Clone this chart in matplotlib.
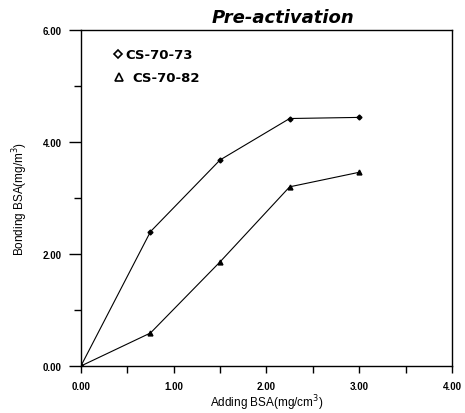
import matplotlib
matplotlib.use("Agg")
import matplotlib.pyplot as plt
from matplotlib.ticker import MultipleLocator, FormatStrFormatter

plt.rcParams['font.family'] = ['Liberation Sans', 'DejaVu Sans']

# data
adding_bsa = [0.0, 0.75, 1.5, 2.25, 3.0]
cs_70_73 = [0.0, 2.40, 3.68, 4.42, 4.44]
cs_70_82 = [0.0, 0.59, 1.86, 3.20, 3.46]

fig = plt.figure(figsize=(4.65, 4.14), dpi=100)
ax = fig.add_axes([0.174, 0.1135, 0.798, 0.8115])

ax.plot(adding_bsa, cs_70_73, color='black', linewidth=0.8,
        marker='D', markersize=2.5, markerfacecolor='black')
ax.plot(adding_bsa, cs_70_82, color='black', linewidth=0.8,
        marker='^', markersize=3.5, markerfacecolor='black')

ax.set_xlim(0, 4)
ax.set_ylim(0, 6)
ax.xaxis.set_major_locator(MultipleLocator(1))
ax.xaxis.set_minor_locator(MultipleLocator(0.5))
ax.yaxis.set_major_locator(MultipleLocator(2))
ax.yaxis.set_minor_locator(MultipleLocator(1))
ax.xaxis.set_major_formatter(FormatStrFormatter('%.2f'))
ax.yaxis.set_major_formatter(FormatStrFormatter('%.2f'))
ax.tick_params(which='both', direction='out', width=1.0, labelsize=7)
ax.tick_params(axis='x', which='both', length=5, pad=6)
ax.tick_params(axis='y', which='major', length=9, pad=5)
ax.tick_params(axis='y', which='minor', length=5)
for lbl in ax.get_xticklabels() + ax.get_yticklabels():
    lbl.set_fontweight('bold')
for sp in ax.spines.values():
    sp.set_linewidth(1.0)

ax.set_xlabel('Adding BSA(mg/cm$^3$)', fontsize=8.5, labelpad=1)
ax.set_ylabel('Bonding BSA(mg/m$^3$)', fontsize=8.5, labelpad=9)

# legend as text with open markers
ax.plot([0.40], [5.57], linestyle='none', marker='D', markersize=4.5,
        markerfacecolor='white', markeredgecolor='black', markeredgewidth=1.2)
ax.text(0.475, 5.57, 'CS-70-73', fontsize=9.5, fontweight='bold', va='center',
        family='DejaVu Sans')
ax.plot([0.41], [5.16], linestyle='none', marker='^', markersize=6,
        markerfacecolor='white', markeredgecolor='black', markeredgewidth=1.2)
ax.text(0.56, 5.16, 'CS-70-82', fontsize=9.5, fontweight='bold', va='center',
        family='DejaVu Sans')

fig.text(0.608, 0.956, 'Pre-activation', fontsize=13, fontweight='bold',
         fontstyle='italic', ha='center', va='center', family='DejaVu Sans')

fig.savefig('out.png', dpi=100)
